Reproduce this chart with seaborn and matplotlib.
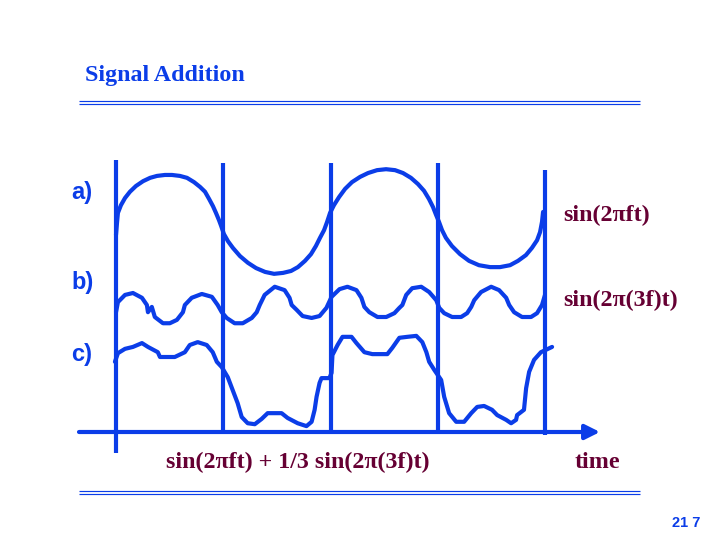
import numpy as np
import pandas as pd
import matplotlib
matplotlib.use('Agg')
import matplotlib.pyplot as plt
import seaborn as sns

# time in periods of f, values in units of the sin(2pi ft) amplitude
# (all read off the hand-drawn slide)
t_a = [0.000, 0.005, 0.009, 0.023, 0.042, 0.065, 0.093, 0.126, 0.159, 0.191,
       0.228, 0.261, 0.298, 0.331, 0.364, 0.392, 0.415, 0.434, 0.452, 0.466,
       0.480, 0.490, 0.503, 0.522, 0.545, 0.578, 0.615, 0.653, 0.695, 0.737,
       0.779, 0.816, 0.848, 0.881, 0.909, 0.932, 0.951, 0.970, 0.984, 0.998,
       1.016, 1.040, 1.068, 1.100, 1.138, 1.175, 1.217, 1.259, 1.301, 1.338,
       1.375, 1.408, 1.436, 1.459, 1.478, 1.492, 1.506, 1.520, 1.538, 1.566,
       1.604, 1.646, 1.692, 1.744, 1.790, 1.837, 1.874, 1.911, 1.939, 1.963,
       1.977, 1.986, 1.991]
sig_a = [-0.27, 0.00, 0.19, 0.35, 0.50, 0.63, 0.75, 0.85, 0.92, 0.96,
         0.98, 0.98, 0.96, 0.92, 0.83, 0.73, 0.63, 0.48, 0.33, 0.19,
         0.04, -0.08, -0.25, -0.40, -0.54, -0.71, -0.85, -0.96, -1.04, -1.08,
         -1.06, -1.02, -0.94, -0.81, -0.67, -0.50, -0.33, -0.17, 0.00, 0.19,
         0.35, 0.52, 0.69, 0.83, 0.94, 1.02, 1.08, 1.10, 1.08, 1.02,
         0.92, 0.79, 0.65, 0.48, 0.31, 0.15, 0.00, -0.17, -0.33, -0.50,
         -0.67, -0.81, -0.90, -0.94, -0.94, -0.90, -0.81, -0.69, -0.54, -0.38,
         -0.21, 0.00, 0.21]

t_b = [0.000, 0.009, 0.042, 0.079, 0.121, 0.144, 0.149, 0.167, 0.181, 0.219,
       0.251, 0.284, 0.312, 0.321, 0.353, 0.400, 0.447, 0.474, 0.493, 0.516,
       0.553, 0.591, 0.633, 0.656, 0.670, 0.693, 0.740, 0.786, 0.809, 0.819,
       0.842, 0.870, 0.912, 0.949, 0.981, 1.005, 1.042, 1.079, 1.121, 1.144,
       1.158, 1.181, 1.219, 1.260, 1.298, 1.321, 1.335, 1.353, 1.381, 1.423,
       1.460, 1.493, 1.507, 1.530, 1.567, 1.609, 1.637, 1.656, 1.670, 1.702,
       1.749, 1.786, 1.819, 1.833, 1.856, 1.893, 1.935, 1.963, 1.986, 2.000]
sig_b = [-0.15, 0.06, 0.21, 0.25, 0.15, 0.00, -0.15, -0.04, -0.25, -0.38,
         -0.38, -0.31, -0.15, 0.00, 0.15, 0.23, 0.17, 0.00, -0.15, -0.27,
         -0.38, -0.38, -0.27, -0.15, 0.00, 0.21, 0.38, 0.31, 0.15, 0.00,
         -0.10, -0.23, -0.27, -0.23, -0.06, 0.17, 0.33, 0.38, 0.31, 0.15,
         -0.04, -0.15, -0.25, -0.25, -0.17, -0.06, 0.00, 0.21, 0.35, 0.38,
         0.27, 0.10, -0.06, -0.17, -0.25, -0.25, -0.17, -0.04, 0.10, 0.27,
         0.38, 0.31, 0.15, 0.00, -0.15, -0.25, -0.25, -0.17, 0.00, 0.21]

t_c = [-0.005, 0.009, 0.042, 0.079, 0.121, 0.149, 0.195, 0.205, 0.274, 0.321,
       0.344, 0.381, 0.423, 0.451, 0.470, 0.493, 0.521, 0.544, 0.567, 0.586,
       0.614, 0.647, 0.679, 0.707, 0.772, 0.800, 0.847, 0.888, 0.912, 0.926,
       0.935, 0.949, 0.958, 0.995, 1.005, 1.009, 1.033, 1.056, 1.098, 1.121,
       1.158, 1.195, 1.265, 1.288, 1.321, 1.358, 1.400, 1.428, 1.447, 1.460,
       1.484, 1.516, 1.530, 1.553, 1.586, 1.623, 1.656, 1.684, 1.716, 1.753,
       1.777, 1.819, 1.842, 1.865, 1.870, 1.902, 1.912, 1.926, 1.949, 1.981,
       2.033]
sig_c = [0.40, 0.58, 0.67, 0.71, 0.79, 0.71, 0.60, 0.50, 0.50, 0.60,
         0.75, 0.81, 0.75, 0.60, 0.40, 0.29, 0.08, -0.19, -0.46, -0.75,
         -0.88, -0.90, -0.79, -0.67, -0.67, -0.77, -0.88, -0.94, -0.85, -0.60,
         -0.33, -0.04, 0.06, 0.06, 0.17, 0.54, 0.75, 0.92, 0.92, 0.79,
         0.60, 0.56, 0.56, 0.69, 0.90, 0.92, 0.94, 0.81, 0.60, 0.40,
         0.23, 0.02, -0.33, -0.67, -0.85, -0.85, -0.67, -0.54, -0.52, -0.60,
         -0.71, -0.81, -0.88, -0.81, -0.71, -0.60, -0.15, 0.19, 0.44, 0.60,
         0.71]

half_periods = [0.0, 0.5, 1.0, 1.5, 2.0]

BLUE = '#0b3de8'
MAROON = '#660033'
W, H = 719, 539
PX_PER_T = 214.5   # pixels per period
T0_PX = 116        # pixel position of t = 0
UNIT = 48          # pixels per unit amplitude

sns.set_style('white')
plt.rcParams['font.family'] = ['Liberation Serif', 'DejaVu Serif']

fig = plt.figure(figsize=(W / 100, H / 100), dpi=100)
xlim = (-T0_PX / PX_PER_T, (W - T0_PX) / PX_PER_T)


def band_axes(name, center_px):
    ax = fig.add_axes([0, 0, 1, 1], label=name)
    ax.set_xlim(xlim)
    ax.set_ylim((center_px - H) / UNIT, center_px / UNIT)
    ax.axis('off')
    ax.patch.set_alpha(0)
    return ax


# page decorations in pixel coordinates
deco = fig.add_axes([0, 0, 1, 1], label='deco')
deco.set_xlim(0, W)
deco.set_ylim(H, 0)
deco.axis('off')
for y in (100.5, 103.5, 490.5, 493.5):
    deco.plot([79, 640], [y, y], color=BLUE, lw=0.85, solid_capstyle='butt')
deco.annotate('', xy=(600, 432), xytext=(79, 432),
              arrowprops=dict(arrowstyle='-|>', lw=3, color=BLUE,
                              mutation_scale=22, shrinkA=0, shrinkB=0))

# half-period markers
tax = fig.add_axes([0, 0, 1, 1], label='time')
tax.set_xlim(xlim)
tax.set_ylim(H, 0)
tax.axis('off')
tax.patch.set_alpha(0)
tops = [160, 163, 163, 163, 170]
bottoms = [453, 432, 432, 432, 435]
for t, y1, y2 in zip(half_periods, tops, bottoms):
    tax.plot([t, t], [y1, y2], color=BLUE, lw=3, solid_capstyle='butt')

curves = [('a', t_a, sig_a, 222), ('b', t_b, sig_b, 305), ('c', t_c, sig_c, 381)]
for name, t, s, center in curves:
    ax = band_axes(name, center)
    df = pd.DataFrame({'t': t, 'v': s})
    sns.lineplot(data=df, x='t', y='v', ax=ax, sort=False, estimator=None,
                 color=BLUE, linewidth=3)
    for ln in ax.lines:
        ln.set_solid_joinstyle('round')
        ln.set_solid_capstyle('round')
    ax.axis('off')

# texts
deco.text(85, 75, 'Signal Addition', color=BLUE, fontsize=17.3,
          fontweight='bold', ha='left', va='center')
for lab, y in (('a)', 192), ('b)', 282), ('c)', 354)):
    deco.text(71, y, lab, color=BLUE, fontsize=17, fontweight='bold',
              family=['Liberation Sans', 'DejaVu Sans'], ha='left', va='center')
deco.text(563, 215, 'sin(2\u03c0ft)', color=MAROON, fontsize=17.3,
          fontweight='bold', ha='left', va='center')
deco.text(563, 300, 'sin(2\u03c0(3f)t)', color=MAROON, fontsize=17.3,
          fontweight='bold', ha='left', va='center')
deco.text(298, 462, 'sin(2\u03c0ft) + 1/3 sin(2\u03c0(3f)t)', color=MAROON,
          fontsize=17.3, fontweight='bold', ha='center', va='center')
deco.text(575, 462, 'time', color=MAROON, fontsize=17.3, fontweight='bold',
          ha='left', va='center')
deco.text(672, 523, '21 7', color=BLUE, fontsize=10.5, fontweight='bold',
          family=['Liberation Sans', 'DejaVu Sans'], ha='left', va='center')

fig.savefig('out.png', dpi=100)
